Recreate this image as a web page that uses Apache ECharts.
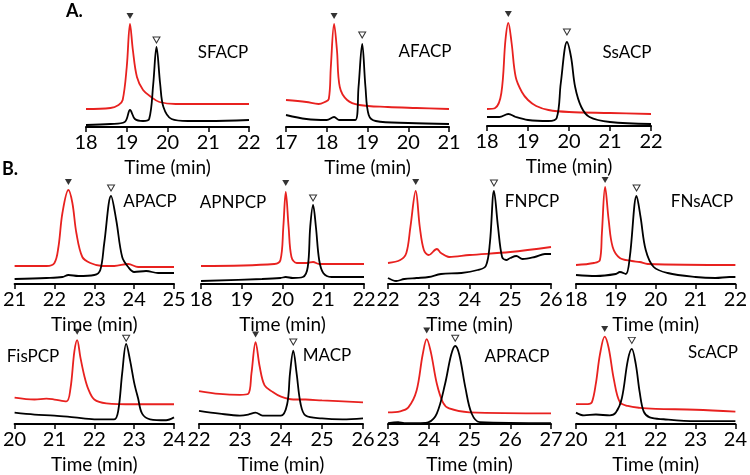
<!DOCTYPE html>
<html>
<head>
<meta charset="utf-8">
<script src="https://cdn.jsdelivr.net/npm/echarts@6/dist/echarts.min.js"></script>
<style>html,body{margin:0;padding:0;background:#fff}#c{width:750px;height:475px}</style>
</head>
<body>
<div id="c"></div>
<script>
// ---- data (time in min, signal in arbitrary units) ----
const panelNames = ['SFACP','AFACP','SsACP','APACP','APNPCP','FNPCP','FNsACP','FisPCP','MACP','APRACP','ScACP'];
const xMin = [18,17,18,21,18,22,18,20,22,23,20];
const xMax = [22,21,22,25,22,26,22,24,26,27,24];

const sfacpRed = [[18,18],[18.6,19],[18.8,22],[18.9,27],[19.0,60],[19.08,103],[19.15,77],[19.25,50],[19.4,37],[19.6,30],[19.8,25],[20.2,23],[21,23],[22,23]];
const sfacpBlack = [[18,2],[18.6,3],[18.95,5],[19.08,17],[19.2,8],[19.4,6],[19.55,8],[19.65,43],[19.73,80],[19.82,43],[19.9,20],[20.1,8],[20.5,6],[21,6],[22,7]];
const afacpRed = [[17,27],[17.5,25],[17.8,23],[17.95,25],[18.05,28],[18.1,60],[18.18,103],[18.25,77],[18.32,40],[18.5,27],[18.8,22],[19.5,20],[20.2,19],[21,18]];
const afacpBlack = [[17,12],[17.5,8],[18.0,7],[18.18,10],[18.3,7],[18.7,7],[18.78,40],[18.87,83],[18.95,40],[19.03,12],[19.2,6],[20,4],[21,3]];
const ssacpRed = [[18,17],[18.2,18],[18.35,33],[18.45,86],[18.52,103],[18.6,83],[18.7,49],[18.85,34],[19.0,26],[19.2,20],[19.5,16],[20,14],[21,13],[22,12]];
const ssacpBlack = [[18,9],[18.3,9],[18.52,12],[18.7,9],[19.0,6],[19.5,5],[19.7,8],[19.8,43],[19.95,84],[20.05,69],[20.15,39],[20.3,19],[20.5,9],[21,4],[22,2]];
const apacpRed = [[21,18],[21.8,18],[22.0,21],[22.1,37],[22.2,71],[22.35,94],[22.45,81],[22.55,51],[22.7,27],[22.9,21],[23.2,18],[23.5,18],[23.85,20],[24.1,17],[25,17]];
const apacpBlack = [[21,5],[21.8,6],[22.2,7],[22.35,9],[22.6,8],[23.0,9],[23.15,14],[23.25,41],[23.42,88],[23.55,64],[23.7,27],[23.85,17],[24.0,12],[24.3,13],[24.6,11],[25,11]];
const apnpcpRed = [[18,18],[19.8,20],[19.95,24],[20.02,57],[20.08,92],[20.15,57],[20.22,27],[20.35,21],[20.6,21],[20.75,22],[20.9,20],[22,20]];
const apnpcpBlack = [[18,3],[19.5,5],[19.95,6],[20.08,7],[20.25,6],[20.5,7],[20.62,17],[20.68,57],[20.75,79],[20.82,57],[20.9,24],[21.0,11],[21.2,7],[22,7]];
const fnpcpRed = [[22,21],[22.3,24],[22.45,31],[22.55,57],[22.68,93],[22.78,57],[22.88,34],[23.0,29],[23.2,35],[23.3,31],[23.5,27],[24,29],[25,32],[26,37]];
const fnpcpBlack = [[22,6],[22.2,3],[22.4,5],[22.7,6],[23.0,7],[23.3,10],[23.8,11],[24.2,14],[24.4,18],[24.5,41],[24.6,93],[24.7,57],[24.8,27],[24.9,24],[25.0,26],[25.15,28],[25.3,25],[25.6,27],[25.85,30],[26,30]];
const fnsacpRed = [[18,19],[18.45,21],[18.6,24],[18.65,51],[18.73,97],[18.82,64],[18.92,37],[19.1,26],[19.4,23],[19.6,22],[19.8,20],[22,19]];
const fnsacpBlack = [[18,9],[18.5,8],[19.0,10],[19.1,12],[19.25,10],[19.35,27],[19.52,88],[19.62,67],[19.75,34],[19.95,17],[20.3,11],[21,7],[21.5,6],[21.85,7],[22,7]];
const fispcpRed = [[20,28],[20.5,26],[20.8,27],[21.0,26],[21.3,24],[21.4,37],[21.5,77],[21.57,89],[21.65,71],[21.75,51],[21.85,37],[22.0,26],[22.3,22],[23,21],[24,21]];
const fispcpBlack = [[20,12],[20.5,10],[21,9],[21.5,7],[22,5],[22.5,5],[22.6,14],[22.7,54],[22.8,85],[22.9,67],[23.0,44],[23.1,27],[23.2,11],[23.4,5],[23.8,4],[24,7]];
const macpRed = [[22,35],[22.5,32],[23.0,31],[23.2,32],[23.28,54],[23.38,87],[23.48,61],[23.6,41],[23.8,34],[24.0,29],[24.3,26],[24.6,26],[25,25],[26,23]];
const macpBlack = [[22,14],[22.5,11],[23.0,9],[23.2,10],[23.38,12],[23.55,9],[24.0,9],[24.15,21],[24.22,54],[24.3,78],[24.38,54],[24.48,21],[24.6,9],[25,6],[25.5,5],[26,6]];
const apracpRed = [[23,12],[23.3,13],[23.5,17],[23.7,34],[23.85,71],[23.95,87],[24.05,74],[24.2,41],[24.35,22],[24.5,16],[25,12],[27,11]];
const apracpBlack = [[23,1],[23.25,2],[23.4,1],[23.8,1],[24.0,2],[24.2,11],[24.4,41],[24.55,71],[24.65,80],[24.75,71],[24.9,37],[25.05,11],[25.25,2],[27,1]];
const scacpRed = [[20,21],[20.3,21],[20.4,23],[20.5,43],[20.6,73],[20.72,92],[20.82,80],[20.95,47],[21.1,23],[21.3,19],[21.6,17],[22,16],[23,15],[24,13]];
const scacpBlack = [[20,12],[20.2,9],[20.5,10],[20.85,9],[21.0,12],[21.15,27],[21.3,67],[21.4,79],[21.5,63],[21.6,33],[21.7,13],[21.85,7],[22.2,5],[23,3],[24,3]];

// peak markers: [time, height] filled (red-trace product), open (black-trace substrate)
const filledMarks = [[19.08,111],[18.18,111],[18.52,112],[22.35,102],[20.08,101],[22.68,102],[18.73,104],[21.57,98],[23.38,95],[23.95,96],[20.72,100]];
const openMarks = [[19.73,87],[18.87,92],[19.95,94],[23.42,96],[20.75,86],[24.6,101],[19.52,96],[22.8,91],[24.3,87],[24.65,88],[21.4,88]];

const redTraces = [sfacpRed,afacpRed,ssacpRed,apacpRed,apnpcpRed,fnpcpRed,fnsacpRed,fispcpRed,macpRed,apracpRed,scacpRed];
const blackTraces = [sfacpBlack,afacpBlack,ssacpBlack,apacpBlack,apnpcpBlack,fnpcpBlack,fnsacpBlack,fispcpBlack,macpBlack,apracpBlack,scacpBlack];

// ---- layout ----
const H = 120;
const layout = [
  {l:86, w:163, ay:127, tx:223, ty:53},
  {l:286, w:163, ay:127, tx:425, ty:52},
  {l:487, w:164, ay:126, tx:627, ty:53},
  {l:11, w:163, ay:284, tx:150, ty:202},
  {l:201, w:163, ay:284, tx:233, ty:203},
  {l:388, w:163, ay:284, tx:532, ty:202},
  {l:576, w:163, ay:284, tx:702, ty:202},
  {l:11, w:163, ay:431, tx:33, ty:357},
  {l:199, w:164, ay:431, tx:327, ty:356},
  {l:388, w:163, ay:427, tx:517, ty:357},
  {l:576, w:163, ay:430, tx:713, ty:353}
];
const FONT = 'Lato, "Open Sans", sans-serif';
const RED = '#e8211f';

const grid = [], xAxis = [], yAxis = [], series = [], graphic = [];
layout.forEach((p, i) => {
  grid.push({left:p.l, top:p.ay - H, width:p.w, height:H});
  xAxis.push({
    type:'value', gridIndex:i, min:xMin[i], max:xMax[i], interval:1,
    axisLine:{show:true, onZero:false, lineStyle:{color:'#000', width:2}},
    axisTick:{show:true, length:5, lineStyle:{color:'#000', width:1.5}},
    splitLine:{show:false},
    axisLabel:{color:'#000', fontSize:20, fontFamily:FONT, margin:6},
    name:'Time (min)', nameLocation:'middle', nameGap:31,
    nameTextStyle:{color:'#000', fontSize:19, fontFamily:FONT}
  });
  yAxis.push({type:'value', gridIndex:i, min:0, max:H, show:false});
  series.push({type:'line', xAxisIndex:i, yAxisIndex:i, data:redTraces[i], smooth:0.35, showSymbol:false,
    lineStyle:{color:RED, width:1.8}, z:2, silent:true});
  series.push({type:'line', xAxisIndex:i, yAxisIndex:i, data:blackTraces[i], smooth:0.35, showSymbol:false,
    lineStyle:{color:'#000', width:1.8}, z:3, silent:true});
  series.push({type:'scatter', xAxisIndex:i, yAxisIndex:i, data:[filledMarks[i]], symbol:'triangle', symbolRotate:180,
    symbolSize:[7,6], itemStyle:{color:'#000'}, z:5, silent:true});
  series.push({type:'scatter', xAxisIndex:i, yAxisIndex:i, data:[openMarks[i]], symbol:'triangle', symbolRotate:180,
    symbolSize:[7,6], itemStyle:{color:'#fff', borderColor:'#000', borderWidth:1}, z:5, silent:true});
  graphic.push({type:'text', x:p.tx, y:p.ty, style:{text:panelNames[i], font:'17px ' + FONT, fill:'#000', align:'center', verticalAlign:'middle'}});
});
graphic.push({type:'text', x:66, y:2, style:{text:'A.', font:'bold 18px ' + FONT, fill:'#000'}});
graphic.push({type:'text', x:2, y:160, style:{text:'B.', font:'bold 18px ' + FONT, fill:'#000'}});

const chart = echarts.init(document.getElementById('c'), null, {renderer:'canvas'});
chart.setOption({animation:false, backgroundColor:'#fff', grid, xAxis, yAxis, series, graphic});
</script>
</body>
</html>
